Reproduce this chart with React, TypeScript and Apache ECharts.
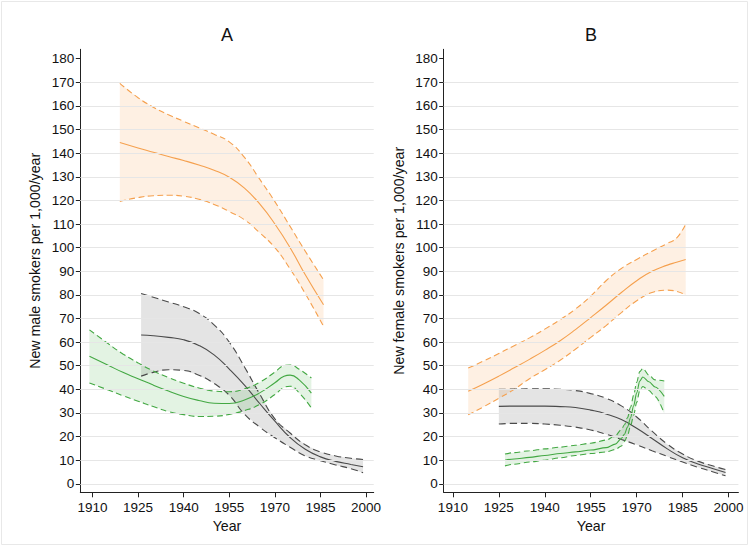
import React, { useEffect, useRef } from "react";
import * as echarts from "echarts";

const FONT = "'Liberation Sans', Arial, Helvetica, sans-serif";

// axes
const yTickValues = [0, 10, 20, 30, 40, 50, 60, 70, 80, 90, 100, 110, 120, 130, 140, 150, 160, 170, 180];
const gridLineValues = [0, 10, 20, 30, 40, 50, 60, 70, 80, 90, 100, 110, 120, 130, 140, 150, 160, 170];
const xTickValues = [1910, 1925, 1940, 1955, 1970, 1985, 2000];
const panelTitles = ["A", "B"];
const yAxisNames = ["New male smokers per 1,000/year", "New female smokers per 1,000/year"];
const xAxisName = "Year";

// Panel A (male) - orange
const maleOrangeYears = [1919, 1925, 1930, 1935, 1940, 1945, 1950, 1955, 1960, 1965, 1970, 1975, 1980, 1986];
const maleOrangeMid = [144.5, 142.2, 140.4, 138.6, 136.9, 135.0, 132.8, 129.8, 125.2, 118.5, 110.0, 100.0, 88.5, 75.8];
const maleOrangeHigh = [169.6, 163.5, 159.5, 156.3, 153.5, 150.8, 148.0, 144.8, 138.2, 129.0, 119.5, 109.0, 98.5, 86.4];
const maleOrangeLow = [119.6, 121.2, 122.0, 122.2, 121.8, 120.5, 118.3, 115.3, 111.8, 106.3, 100.0, 91.0, 80.5, 66.7];

// Panel A (male) - gray
const maleGrayYears = [1926, 1930, 1935, 1940, 1945, 1950, 1955, 1960, 1965, 1970, 1975, 1980, 1985, 1990, 1995, 1999];
const maleGrayMid = [63.0, 62.7, 62.0, 61.0, 58.6, 54.6, 48.6, 41.8, 34.0, 26.5, 19.6, 14.6, 11.4, 9.5, 8.2, 7.2];
const maleGrayHigh = [80.6, 79.0, 77.0, 75.0, 72.2, 67.3, 60.0, 49.5, 38.0, 27.5, 21.5, 16.5, 13.5, 11.8, 10.8, 10.3];
const maleGrayLow = [45.6, 47.2, 48.3, 48.0, 46.0, 42.5, 37.5, 29.5, 24.0, 19.5, 15.5, 11.8, 9.8, 8.0, 6.4, 4.7];

// Panel A (male) - green
const maleGreenYears = [1909, 1915, 1920, 1925, 1930, 1935, 1940, 1945, 1950, 1955, 1960, 1965, 1970, 1973, 1975, 1978, 1982];
const maleGreenMid = [54.0, 50.3, 47.2, 44.5, 41.8, 39.3, 37.0, 35.3, 34.1, 34.0, 35.5, 38.5, 42.8, 45.5, 46.0, 44.0, 38.4];
const maleGreenHigh = [65.2, 59.5, 55.0, 51.2, 47.8, 45.0, 42.6, 40.6, 39.3, 39.0, 40.2, 43.0, 47.3, 50.0, 50.3, 48.5, 44.8];
const maleGreenLow = [42.7, 39.8, 37.3, 35.0, 32.7, 30.6, 29.3, 28.5, 28.6, 29.4, 31.0, 33.6, 37.8, 40.8, 41.3, 38.5, 32.1];

// Panel B (female) - orange
const femaleOrangeYears = [1915, 1920, 1925, 1930, 1935, 1940, 1945, 1950, 1955, 1960, 1965, 1970, 1975, 1980, 1983, 1986];
const femaleOrangeMid = [39.2, 42.3, 45.6, 49.1, 52.7, 56.5, 60.6, 65.3, 70.4, 75.6, 81.0, 86.0, 90.0, 92.6, 93.8, 95.0];
const femaleOrangeHigh = [49.0, 52.0, 55.2, 58.5, 61.8, 65.5, 69.5, 74.0, 79.5, 86.0, 91.2, 95.0, 98.5, 101.8, 104.0, 110.0];
const femaleOrangeLow = [29.2, 32.6, 36.2, 40.0, 44.5, 48.3, 52.3, 57.0, 62.0, 67.0, 72.5, 77.5, 81.0, 82.0, 81.5, 80.0];

// Panel B (female) - gray
const femaleGrayYears = [1925, 1930, 1935, 1940, 1945, 1950, 1955, 1960, 1965, 1970, 1975, 1980, 1985, 1990, 1995, 1999];
const femaleGrayMid = [32.8, 32.9, 32.9, 32.9, 32.7, 32.3, 31.2, 29.6, 27.2, 23.5, 19.2, 14.8, 11.0, 8.4, 6.4, 4.8];
const femaleGrayHigh = [40.0, 40.1, 40.2, 40.2, 40.0, 39.5, 38.2, 36.2, 33.0, 28.3, 22.3, 16.8, 12.6, 9.6, 7.5, 6.0];
const femaleGrayLow = [25.3, 25.6, 25.6, 25.3, 24.8, 24.0, 22.8, 21.0, 18.8, 16.5, 14.0, 11.6, 9.2, 7.0, 5.0, 3.4];

// Panel B (female) - green
const femaleGreenYears = [1927, 1930, 1935, 1940, 1945, 1950, 1955, 1960, 1963, 1965, 1966, 1967, 1968, 1969, 1970, 1971, 1972, 1974, 1976, 1979];
const femaleGreenMid = [10.0, 10.5, 11.2, 12.0, 12.8, 13.5, 14.3, 15.3, 16.8, 19.2, 21.0, 24.0, 28.0, 33.0, 38.5, 43.5, 45.2, 43.2, 41.0, 37.0];
const femaleGreenHigh = [12.6, 13.2, 14.0, 14.8, 15.5, 16.3, 17.2, 18.5, 20.3, 23.0, 25.0, 28.0, 32.5, 37.5, 43.0, 47.5, 48.9, 46.0, 44.0, 43.5];
const femaleGreenLow = [7.6, 8.3, 9.2, 10.0, 11.0, 12.0, 12.8, 13.5, 14.5, 16.0, 17.8, 20.5, 24.5, 29.0, 34.5, 39.5, 41.2, 39.5, 37.0, 29.8];

const ORANGE = { line: "#f5a04e", fill: "rgba(247,160,80,0.16)", dash: [6, 3.5] };
const GRAY = { line: "#4a4a4a", fill: "rgba(110,110,110,0.19)", dash: [7, 4] };
const GREEN = { line: "#43a843", fill: "rgba(70,175,70,0.15)", dash: [6, 3.5] };

type Pal = { line: string; fill: string; dash: number[] };

function bandSeries(g: number, years: number[], low: number[], mid: number[], high: number[], pal: Pal, monotone: boolean) {
  const pairs = (vals: number[]) => years.map((y, i) => [y, vals[i]]);
  const fill = {
    type: "custom",
    xAxisIndex: g,
    yAxisIndex: g,
    silent: true,
    z: 1,
    data: years.map((y, i) => [y, low[i], high[i]]),
    encode: { x: 0, y: [1, 2] },
    renderItem: (params: any, api: any) => {
      if (params.dataIndex !== 0) return null;
      const pts: number[][] = [];
      for (let i = 0; i < years.length; i++) pts.push(api.coord([years[i], high[i]]));
      for (let i = years.length - 1; i >= 0; i--) pts.push(api.coord([years[i], low[i]]));
      return { type: "polygon", shape: { points: pts }, style: { fill: pal.fill, stroke: null } };
    },
  };
  const line = (vals: number[], dashed: boolean) => ({
    type: "line",
    xAxisIndex: g,
    yAxisIndex: g,
    silent: true,
    z: 3,
    data: pairs(vals),
    symbol: "none",
    showSymbol: false,
    smooth: monotone ? 0.3 : 0.5,
    ...(monotone ? { smoothMonotone: "x" } : {}),
    lineStyle: { color: pal.line, width: 1.1, type: dashed ? pal.dash : "solid" },
  });
  return [fill, line(low, true), line(high, true), line(mid, false)];
}

function gridLinesSeries(g: number) {
  return {
    type: "line",
    xAxisIndex: g,
    yAxisIndex: g,
    data: [],
    silent: true,
    z: 0,
    markLine: {
      silent: true,
      symbol: "none",
      animation: false,
      label: { show: false },
      lineStyle: { color: "#e6e6e6", width: 1.2, type: "solid" },
      data: gridLineValues.map((v) => ({ yAxis: v })),
    },
  };
}

const GRIDS = [
  { left: 80.3, top: 49.3, width: 293.4, height: 443, xmin: 1906, xmax: 2002.5, nameGap: 38 },
  { left: 443.7, top: 49.3, width: 294.7, height: 443, xmin: 1907, xmax: 2003.2, nameGap: 38 },
];

export default function App() {
  const ref = useRef<HTMLDivElement>(null);
  useEffect(() => {
    if (!ref.current) return;
    const chart = echarts.init(ref.current, null, { renderer: "svg" });
    const axisColor = "#222";
    const option: any = {
      animation: false,
      backgroundColor: "#fff",
      grid: GRIDS.map((g) => ({ left: g.left, top: g.top, width: g.width, height: g.height, containLabel: false, outerBoundsMode: "none" })),
      xAxis: GRIDS.map((g, i) => ({
        gridIndex: i,
        type: "value",
        min: g.xmin,
        max: g.xmax,
        name: xAxisName,
        nameLocation: "middle",
        nameGap: 22,
        nameTextStyle: { fontSize: 14.2, color: "#111", fontFamily: FONT },
        axisLine: { show: true, onZero: false, lineStyle: { color: axisColor, width: 1 } },
        axisTick: { show: true, length: 5, customValues: xTickValues, lineStyle: { color: axisColor, width: 1 } },
        axisLabel: {
          show: true,
          customValues: xTickValues,
          formatter: (v: number) => String(v),
          margin: 8,
          fontSize: 13.5,
          color: "#111",
          fontFamily: FONT,
        },
        splitLine: { show: false },
      })),
      yAxis: GRIDS.map((g, i) => ({
        gridIndex: i,
        type: "value",
        min: -3.6,
        max: 184,
        name: yAxisNames[i],
        nameLocation: "middle",
        nameGap: g.nameGap,
        nameRotate: 90,
        nameTextStyle: { fontSize: 14.2, color: "#111", fontFamily: FONT, padding: [0, 0, 0, 20] },
        axisLine: { show: true, onZero: false, lineStyle: { color: axisColor, width: 1 } },
        axisTick: { show: true, length: 4.5, customValues: yTickValues, lineStyle: { color: axisColor, width: 1 } },
        axisLabel: {
          show: true,
          customValues: yTickValues,
          formatter: (v: number) => String(v),
          margin: 6,
          fontSize: 13.5,
          color: "#111",
          fontFamily: FONT,
        },
        splitLine: { show: false },
      })),
      graphic: [
        { type: "rect", silent: true, shape: { x: 1.5, y: 1.5, width: 746, height: 543 }, style: { fill: "none", stroke: "#e8e8e8", lineWidth: 1 } },
        ...GRIDS.map((g, i) => ({
          type: "text",
          silent: true,
          x: g.left + g.width / 2,
          y: 35,
          style: { text: panelTitles[i], fontSize: 18, fontFamily: FONT, fill: "#111", align: "center", verticalAlign: "middle" },
        })),
      ],
      series: [
        gridLinesSeries(0),
        gridLinesSeries(1),
        ...bandSeries(0, maleOrangeYears, maleOrangeLow, maleOrangeMid, maleOrangeHigh, ORANGE, false),
        ...bandSeries(0, maleGrayYears, maleGrayLow, maleGrayMid, maleGrayHigh, GRAY, false),
        ...bandSeries(0, maleGreenYears, maleGreenLow, maleGreenMid, maleGreenHigh, GREEN, false),
        ...bandSeries(1, femaleOrangeYears, femaleOrangeLow, femaleOrangeMid, femaleOrangeHigh, ORANGE, false),
        ...bandSeries(1, femaleGrayYears, femaleGrayLow, femaleGrayMid, femaleGrayHigh, GRAY, false),
        ...bandSeries(1, femaleGreenYears, femaleGreenLow, femaleGreenMid, femaleGreenHigh, GREEN, true),
      ],
    };
    chart.setOption(option);
    return () => chart.dispose();
  }, []);
  return <div ref={ref} style={{ position: "absolute", left: 0, top: 0, width: 750, height: 546 }} />;
}
